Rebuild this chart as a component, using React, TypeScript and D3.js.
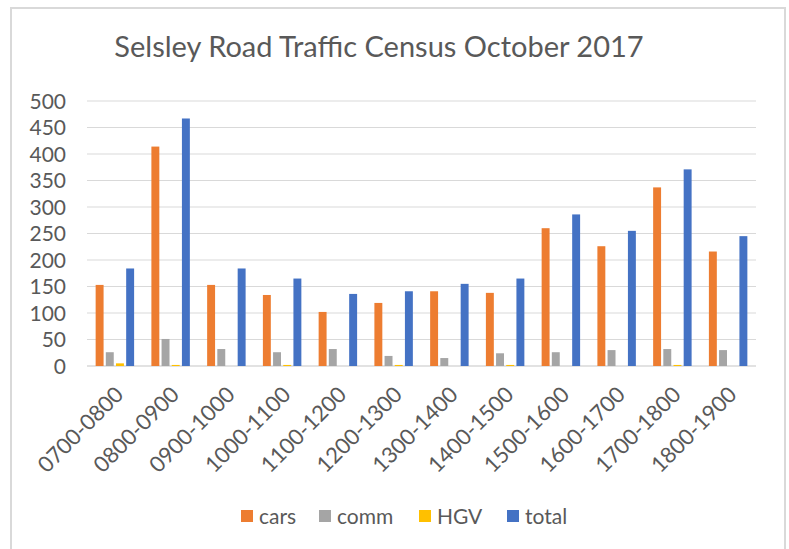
import React, { useEffect, useRef } from 'react';
import * as d3 from 'd3';

const periods = ['0700-0800', '0800-0900', '0900-1000', '1000-1100', '1100-1200', '1200-1300',
  '1300-1400', '1400-1500', '1500-1600', '1600-1700', '1700-1800', '1800-1900'];
const cars = [153, 414, 153, 134, 102, 119, 141, 138, 260, 226, 337, 216];
const comm = [26, 51, 32, 26, 32, 19, 15, 24, 26, 30, 32, 30];
const hgv = [5, 2, 0, 2, 0, 2, 0, 2, 0, 0, 2, 0];
const total = [184, 467, 184, 165, 136, 141, 155, 165, 286, 255, 371, 245];
const seriesNames = ['cars', 'comm', 'HGV', 'total'];
const yTicks = [0, 50, 100, 150, 200, 250, 300, 350, 400, 450, 500];

const colors = ['#ED7D31', '#A5A5A5', '#FFC000', '#4472C4'];
const font = 'Lato, "Open Sans", sans-serif';

function App() {
  const ref = useRef(null);

  useEffect(() => {
    const svg = d3.select(ref.current);
    svg.selectAll('*').remove();

    const width = 789, height = 549;
    const margin = { top: 101, right: 33, bottom: 183, left: 87 };
    const seriesValues = [cars, comm, hgv, total];

    // chart frame
    svg.append('rect')
      .attr('x', 11).attr('y', 8)
      .attr('width', 774).attr('height', 570)
      .attr('fill', '#fff')
      .attr('stroke', '#d9d9d9')
      .attr('stroke-width', 2);

    svg.append('text')
      .attr('x', 379).attr('y', 57)
      .attr('text-anchor', 'middle')
      .attr('font-family', font)
      .attr('font-size', 29)
      .attr('fill', '#595959')
      .text('Selsley Road Traffic Census October 2017');

    const x = d3.scaleBand()
      .domain(periods)
      .range([margin.left, width - margin.right]);

    const inner = d3.scaleBand()
      .domain(seriesNames)
      .range([x.bandwidth() * 0.155, x.bandwidth() * 0.845])
      .paddingInner(0.22);

    const y = d3.scaleLinear()
      .domain([0, 500])
      .range([height - margin.bottom, margin.top]);

    // gridlines
    svg.append('g')
      .selectAll('line')
      .data(yTicks)
      .join('line')
      .attr('x1', margin.left)
      .attr('x2', width - margin.right)
      .attr('y1', d => y(d))
      .attr('y2', d => y(d))
      .attr('stroke', '#d9d9d9')
      .attr('stroke-width', d => d === 0 ? 1.5 : 1);

    // y labels
    svg.append('g')
      .selectAll('text')
      .data(yTicks)
      .join('text')
      .attr('x', 66)
      .attr('y', d => y(d))
      .attr('dy', '0.36em')
      .attr('text-anchor', 'end')
      .attr('font-family', font)
      .attr('font-size', 21)
      .attr('fill', '#595959')
      .text(d => d);

    // bars
    seriesNames.forEach((name, si) => {
      svg.append('g')
        .selectAll('rect')
        .data(seriesValues[si])
        .join('rect')
        .attr('x', (d, i) => x(periods[i]) + inner(name))
        .attr('y', d => y(d))
        .attr('width', inner.bandwidth())
        .attr('height', d => y(0) - y(d))
        .attr('fill', colors[si]);
    });

    // x labels, rotated
    svg.append('g')
      .selectAll('text')
      .data(periods)
      .join('text')
      .attr('transform', d => `translate(${x(d) + x.bandwidth() / 2 + 10},396) rotate(-45)`)
      .attr('text-anchor', 'end')
      .attr('font-family', font)
      .attr('font-size', 22)
      .attr('fill', '#595959')
      .text(d => d);

    // legend
    const legendX = [241, 319, 419, 507];
    const legend = svg.append('g');
    seriesNames.forEach((name, i) => {
      legend.append('rect')
        .attr('x', legendX[i]).attr('y', 510)
        .attr('width', 12).attr('height', 12)
        .attr('fill', colors[i]);
      legend.append('text')
        .attr('x', legendX[i] + 18).attr('y', 516)
        .attr('dy', '0.36em')
        .attr('font-family', font)
        .attr('font-size', 21)
        .attr('fill', '#595959')
        .text(name);
    });
  }, []);

  return (
    <svg ref={ref} width="789" height="549"
      style={{ position: 'absolute', left: 0, top: 0, background: '#fff' }}></svg>
  );
}

export default App;
